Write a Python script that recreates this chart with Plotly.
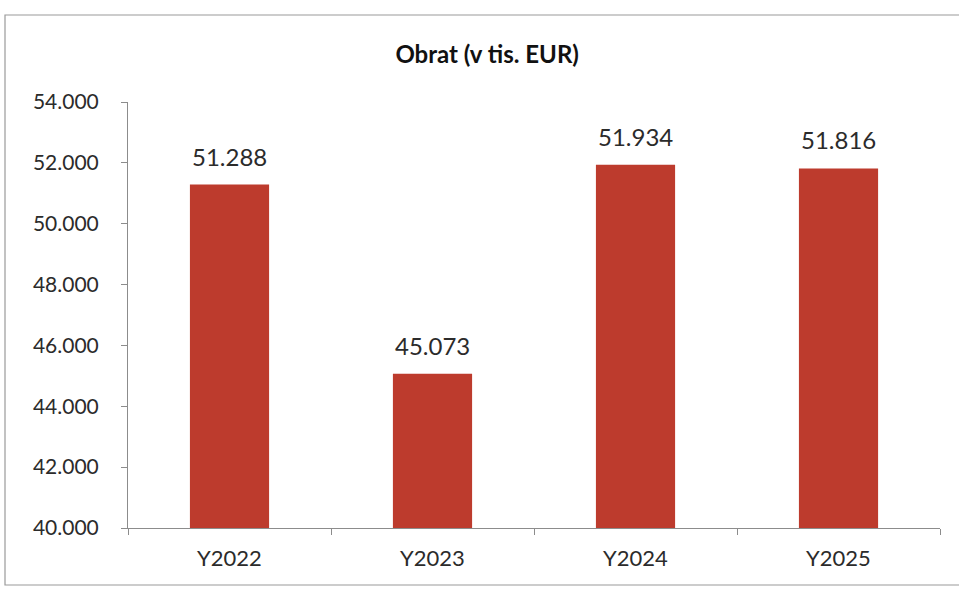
import plotly.graph_objects as go

categories = ["Y2022", "Y2023", "Y2024", "Y2025"]
values = [51288, 45073, 51934, 51816]
title_text = "Obrat (v tis. EUR)"
y_ticks = [40000, 42000, 44000, 46000, 48000, 50000, 52000, 54000]

FONT = "Lato"
TXT = "#2b2b2b"
fig = go.Figure(go.Bar(
    x=categories, y=values,
    marker=dict(color="#BD3B2D", line=dict(width=0)),
    width=0.39,
    hoverinfo="x+y",
))

for c, v in zip(categories, values):
    fig.add_annotation(
        x=c, y=v, xref="x", yref="y",
        text=f"{v:,d}".replace(",", "."),
        showarrow=False, yanchor="bottom", yshift=12,
        font=dict(family=FONT, size=24, color=TXT),
    )

fig.update_layout(
    width=959, height=589,
    paper_bgcolor="white", plot_bgcolor="white",
    separators=",.",
    margin=dict(l=128, r=19, t=102, b=61),
    title=dict(text="<b>" + title_text + "</b>", x=0.508, xanchor="center",
               y=1 - 55 / 589, yanchor="middle",
               font=dict(family=FONT, size=24, color="#111111")),
    showlegend=False,
    font=dict(family=FONT, color=TXT),
    shapes=[dict(type="rect", xref="paper", yref="paper",
                 x0=-123 / 812, x1=1.2, y0=-57 / 426, y1=1 + 87 / 426,
                 line=dict(color="#9a9a9a", width=1.2), layer="below")],
)
fig.update_yaxes(
    range=[40000, 54000], tickvals=y_ticks, tickformat=",d",
    showgrid=False, zeroline=False,
    showline=True, linecolor="#8c8c8c", linewidth=1,
    ticks="outside", ticklen=6, tickcolor="#8c8c8c",
    ticklabelstandoff=18,
    tickfont=dict(family=FONT, size=21, color=TXT),
)
fig.update_xaxes(
    showgrid=False, showline=True, linecolor="#8c8c8c", linewidth=1,
    ticks="outside", ticklen=6, tickcolor="#8c8c8c", tickson="boundaries",
    ticklabelstandoff=11,
    tickfont=dict(family=FONT, size=22, color=TXT),
)
fig.write_html("out.html", config={"displayModeBar": False},
               post_script="document.body.style.margin='0';")
